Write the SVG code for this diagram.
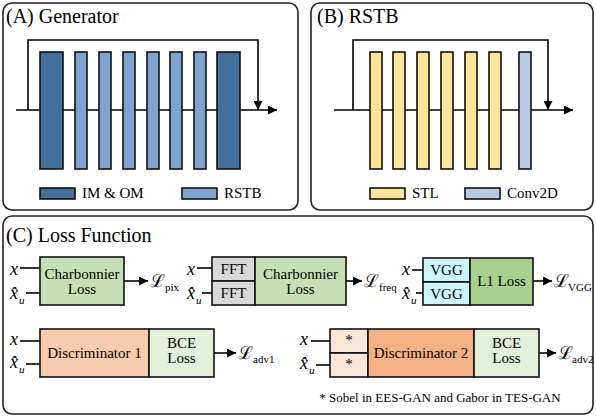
<svg xmlns="http://www.w3.org/2000/svg" width="596" height="418" viewBox="0 0 596 418" font-family="Liberation Serif, serif">
<defs>
<marker id="ah" viewBox="0 0 10 10" refX="10" refY="5" markerWidth="9" markerHeight="9" markerUnits="userSpaceOnUse" orient="auto"><path d="M0,0 L10,5 L0,10 z" fill="#000"/></marker>
<style>
.panel{fill:#fff;stroke:#222;stroke-width:1.6}
.t{font-family:'Liberation Serif',serif;fill:#000}
.title{font-size:20px}
.lbl{font-size:15px;text-anchor:middle}
.leg{font-size:15px}
.blk{stroke:#111;stroke-width:1.6}
.ln{stroke:#000;stroke-width:1.6;fill:none}
.arr{stroke:#000;stroke-width:1.6;fill:none;marker-end:url(#ah)}
.dk{fill:#41709c}
.lb{fill:#7ba4d2}
.yl{fill:#ffe599}
.cv{fill:#b7cae6}
.cal{font-family:'DejaVu Serif',serif;font-size:18px}
.sub{font-family:'Liberation Serif',serif;font-size:11px}
.xv{font-family:'Liberation Serif',serif;font-style:italic;font-size:18px}
.u{font-family:'Liberation Serif',serif;font-style:italic;font-size:11px}
</style>
</defs>

<g id="panelA">
<rect class="panel" x="3" y="3" width="295" height="207" rx="9"/>
<text class="t title" x="6" y="23">(A) Generator</text>
</g>
<g id="panelB">
<rect class="panel" x="311" y="3" width="282" height="207" rx="9"/>
<text class="t title" x="317" y="23">(B) RSTB</text>
</g>
<g id="panelC">
<rect class="panel" x="3" y="216" width="590" height="198" rx="9"/>
<text class="t title" x="6" y="242">(C) Loss Function</text>
</g>

<g id="connectors">
<line class="arr" x1="16" y1="110" x2="277" y2="110"/>
<path class="arr" d="M28,110 V40 H258 V110"/>
<line class="arr" x1="334" y1="110" x2="573" y2="110"/>
<path class="arr" d="M353,110 V40 H548 V110"/>
<line class="ln" x1="20" y1="268" x2="40" y2="268"/>
<line class="ln" x1="26" y1="293" x2="40" y2="293"/>
<line class="arr" x1="124" y1="281" x2="148" y2="281"/>
<line class="ln" x1="197" y1="268" x2="212" y2="268"/>
<line class="ln" x1="202" y1="293" x2="212" y2="293"/>
<line class="arr" x1="346" y1="281" x2="362" y2="281"/>
<line class="ln" x1="412" y1="270" x2="423" y2="270"/>
<line class="ln" x1="416" y1="293" x2="423" y2="293"/>
<line class="arr" x1="533" y1="281" x2="552" y2="281"/>
<line class="ln" x1="20" y1="341" x2="40" y2="341"/>
<line class="ln" x1="26" y1="364" x2="40" y2="364"/>
<line class="arr" x1="214" y1="353" x2="236" y2="353"/>
<line class="ln" x1="311" y1="341" x2="330" y2="341"/>
<line class="ln" x1="316" y1="365" x2="330" y2="365"/>
<line class="arr" x1="539" y1="353" x2="556" y2="353"/>
</g>

<g id="generator">
<rect class="blk dk" x="40" y="52" width="23" height="117"/>
<rect class="blk lb" x="75" y="52" width="12" height="117"/>
<rect class="blk lb" x="99" y="52" width="12" height="117"/>
<rect class="blk lb" x="123" y="52" width="12" height="117"/>
<rect class="blk lb" x="147" y="52" width="12" height="117"/>
<rect class="blk lb" x="170" y="52" width="12" height="117"/>
<rect class="blk lb" x="194" y="52" width="12" height="117"/>
<rect class="blk dk" x="217" y="52" width="23" height="117"/>
</g>
<g id="legendA">
<rect class="blk dk" x="40" y="188" width="35" height="11"/>
<text class="t leg" x="82" y="198">IM &amp; OM</text>
<rect class="blk lb" x="182" y="188" width="35" height="11"/>
<text class="t leg" x="224" y="198">RSTB</text>
</g>

<g id="rstb">
<rect class="blk yl" x="370" y="52" width="12" height="117"/>
<rect class="blk yl" x="393" y="52" width="12" height="117"/>
<rect class="blk yl" x="417" y="52" width="12" height="117"/>
<rect class="blk yl" x="441" y="52" width="12" height="117"/>
<rect class="blk yl" x="465" y="52" width="12" height="117"/>
<rect class="blk yl" x="489" y="52" width="12" height="117"/>
<rect class="blk cv" x="519" y="52" width="12" height="117"/>
</g>
<g id="legendB">
<rect class="blk yl" x="370" y="188" width="35" height="11"/>
<text class="t leg" x="412" y="198">STL</text>
<rect class="blk cv" x="465" y="188" width="35" height="11"/>
<text class="t leg" x="507" y="198">Conv2D</text>
</g>

<g id="lpix">
<text class="xv" x="10" y="275">x</text>
<text class="xv" x="10" y="299">x̂</text><text class="u" x="19" y="304">u</text>
<rect class="blk" fill="#c5e0b4" x="40" y="257" width="84" height="48"/>
<text class="t lbl" x="82" y="279">Charbonnier</text>
<text class="t lbl" x="82" y="294">Loss</text>
<text class="cal" x="150" y="287">ℒ</text><text class="sub" x="165" y="291">pix</text>
</g>

<g id="lfreq">
<text class="xv" x="187" y="275">x</text>
<text class="xv" x="187" y="299">x̂</text><text class="u" x="196" y="304">u</text>
<rect class="blk" fill="#d9d9d9" x="212" y="257" width="43" height="24"/>
<rect class="blk" fill="#d9d9d9" x="212" y="281" width="43" height="24"/>
<text class="t lbl" x="233.5" y="274">FFT</text>
<text class="t lbl" x="233.5" y="298">FFT</text>
<rect class="blk" fill="#c5e0b4" x="255" y="257" width="91" height="48"/>
<text class="t lbl" x="300.5" y="279">Charbonnier</text>
<text class="t lbl" x="300.5" y="294">Loss</text>
<text class="cal" x="364" y="287">ℒ</text><text class="sub" x="379" y="291">freq</text>
</g>

<g id="lvgg">
<text class="xv" x="402" y="275">x</text>
<text class="xv" x="402" y="299">x̂</text><text class="u" x="411" y="304">u</text>
<rect class="blk" fill="#ccf6fb" x="423" y="258" width="47" height="24"/>
<rect class="blk" fill="#ccf6fb" x="423" y="282" width="47" height="23"/>
<text class="t lbl" x="446.5" y="275">VGG</text>
<text class="t lbl" x="446.5" y="299">VGG</text>
<rect class="blk" fill="#a9d18e" x="470" y="258" width="63" height="47"/>
<text class="t lbl" x="501.5" y="286">L1 Loss</text>
<text class="cal" x="554" y="287">ℒ</text><text class="sub" x="568" y="291" font-size="10">VGG</text>
</g>

<g id="ladv1">
<text class="xv" x="10" y="345">x</text>
<text class="xv" x="10" y="368">x̂</text><text class="u" x="19" y="373">u</text>
<rect class="blk" fill="#f8cbad" x="40" y="329" width="109" height="48"/>
<text class="t lbl" x="94.5" y="358">Discriminator 1</text>
<rect class="blk" fill="#e2efd9" x="149" y="329" width="65" height="48"/>
<text class="t lbl" x="181.5" y="348">BCE</text>
<text class="t lbl" x="181.5" y="363">Loss</text>
<text class="cal" x="238" y="359">ℒ</text><text class="sub" x="253" y="363">adv1</text>
</g>

<g id="ladv2">
<text class="xv" x="300" y="345">x</text>
<text class="xv" x="300" y="369">x̂</text><text class="u" x="309" y="374">u</text>
<rect class="blk" fill="#fbe5d6" x="330" y="329" width="38" height="24"/>
<rect class="blk" fill="#fbe5d6" x="330" y="353" width="38" height="24"/>
<text class="t lbl" x="349" y="345">*</text>
<text class="t lbl" x="349" y="369">*</text>
<rect class="blk" fill="#f4b183" x="368" y="329" width="106" height="48"/>
<text class="t lbl" x="421" y="358">Discriminator 2</text>
<rect class="blk" fill="#e2efd9" x="474" y="329" width="65" height="48"/>
<text class="t lbl" x="506.5" y="348">BCE</text>
<text class="t lbl" x="506.5" y="363">Loss</text>
<text class="cal" x="558" y="359">ℒ</text><text class="sub" x="572" y="363" font-size="10.5">adv2</text>
</g>

<text class="t" font-size="13" x="440" y="402" text-anchor="middle">* Sobel in EES-GAN and Gabor in TES-GAN</text>
</svg>
